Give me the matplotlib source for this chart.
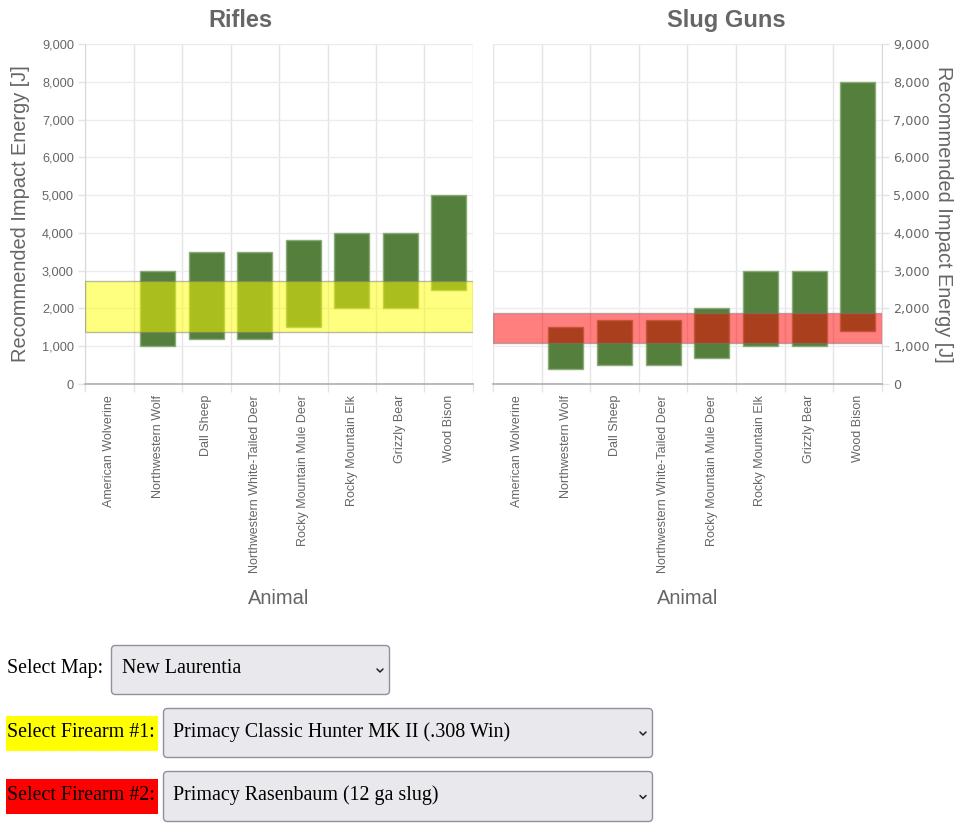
import matplotlib
matplotlib.use("Agg")
import matplotlib.pyplot as plt
import numpy as np
from matplotlib.patches import FancyBboxPatch, Rectangle
from matplotlib.ticker import FuncFormatter, FixedLocator

# ---------------- data ----------------
animals = ["American Wolverine", "Northwestern Wolf", "Dall Sheep",
           "Northwestern White-Tailed Deer", "Rocky Mountain Mule Deer",
           "Rocky Mountain Elk", "Grizzly Bear", "Wood Bison"]

rifle_min = [None, 1000, 1200, 1200, 1500, 2000, 2000, 2500]
rifle_max = [None, 3000, 3500, 3500, 3800, 4000, 4000, 5000]

slug_min = [None, 400, 500, 500, 700, 1000, 1000, 1400]
slug_max = [None, 1500, 1700, 1700, 2000, 3000, 3000, 8000]

firearm1_band = [1365, 2730]   # Primacy Classic Hunter MK II (.308 Win)
firearm2_band = [1090, 1885]   # Primacy Rasenbaum (12 ga slug)

y_ticks = [0, 1000, 2000, 3000, 4000, 5000, 6000, 7000, 8000, 9000]

map_name = "New Laurentia"
firearm1 = "Primacy Classic Hunter MK II (.308 Win)"
firearm2 = "Primacy Rasenbaum (12 ga slug)"

# ---------------- style ----------------
TXT = "#666666"
GRID = "#e4e4e4"
BAR = "#557f3d"
BAR_EDGE = "#8aab78"
SANS = ["Liberation Sans", "DejaVu Sans"]
SERIF = ["Liberation Serif", "DejaVu Serif"]

W, H = 962, 830
fig = plt.figure(figsize=(W / 100, H / 100), dpi=100)


def px_axes(x0, y0, x1, y1):
    return fig.add_axes([x0 / W, 1 - y1 / H, (x1 - x0) / W, (y1 - y0) / H])


def draw_panel(ax, title, title_x, mins, maxs, band, band_color, right=False):
    x = np.arange(len(animals))
    lo = np.array([np.nan if v is None else v for v in mins], dtype=float)
    hi = np.array([np.nan if v is None else v for v in maxs], dtype=float)
    ax.bar(x, hi - lo, bottom=lo, width=0.72, color=BAR,
           edgecolor=BAR_EDGE, linewidth=1.0, zorder=2)
    ax.axhspan(band[0], band[1], facecolor=band_color, alpha=0.5,
               edgecolor="#7a7a7a", linewidth=1.0, zorder=3)

    ax.set_xlim(-0.5, len(animals) - 0.5)
    ax.set_ylim(y_ticks[0], y_ticks[-1])
    ax.set_axisbelow(True)

    ax.set_xticks(x)
    ax.set_xticklabels(animals, rotation=90, ha="center", va="top",
                       fontsize=9, color=TXT, family=SANS)
    ax.xaxis.set_minor_locator(FixedLocator(np.arange(-0.5, len(animals), 1.0)))
    ax.tick_params(axis="x", which="major", length=0, pad=8)
    ax.tick_params(axis="x", which="minor", length=6, color=GRID, width=1)
    ax.grid(True, axis="x", which="minor", color=GRID, linewidth=1)

    ax.yaxis.set_major_locator(FixedLocator(y_ticks))
    ax.yaxis.set_major_formatter(FuncFormatter(lambda v, p: f"{int(v):,}"))
    ax.grid(True, axis="y", which="major", color="#ececec", linewidth=1)
    ax.tick_params(axis="y", length=5, color=GRID, width=1, pad=3,
                   labelsize=9.2, labelcolor=TXT)
    for lbl in ax.get_yticklabels():
        lbl.set_family(SANS)

    ax.spines["top"].set_visible(False)
    ax.spines["bottom"].set_color("#b4b4b4")
    ax.spines["bottom"].set_linewidth(1.3)
    if right:
        ax.yaxis.tick_right()
        ax.yaxis.set_label_position("right")
        ax.spines["left"].set_visible(False)
        ax.spines["right"].set_color("#d8d8d8")
    else:
        ax.spines["right"].set_visible(False)
        ax.spines["left"].set_color("#d8d8d8")

    ax.set_title(title, fontsize=17, fontweight="bold", color=TXT,
                 family=SANS, pad=12, x=title_x)
    ax.set_xlabel("Animal", fontsize=14.4, color=TXT, family=SANS)
    ax.xaxis.set_label_coords(0.5, -0.603)
    ax.xaxis.label.set_va("top")
    if right:
        ax.set_ylabel("Recommended Impact Energy [J]", fontsize=14.4,
                      color=TXT, family=SANS, rotation=270, va="center")
        ax.yaxis.set_label_coords(1.159, 0.5)
    else:
        ax.set_ylabel("Recommended Impact Energy [J]", fontsize=14.4,
                      color=TXT, family=SANS, va="center")
        ax.yaxis.set_label_coords(-0.165, 0.5)


ax1 = px_axes(85, 44, 473, 384)
draw_panel(ax1, "Rifles", (240 - 85) / 388, rifle_min, rifle_max,
           firearm1_band, "#ffff00")
ax2 = px_axes(493, 44, 882, 384)
draw_panel(ax2, "Slug Guns", (726 - 493) / 389, slug_min, slug_max,
           firearm2_band, "#ff0000", right=True)

# ---------------- form controls ----------------
ui = fig.add_axes([0, 0, 1, 1], zorder=-1)
ui.set_xlim(0, W)
ui.set_ylim(H, 0)
ui.axis("off")
ui.patch.set_visible(False)

FS = 14.4


def dropdown(x0, y0, x1, y1, text, tx, base):
    box = FancyBboxPatch((x0 + 0.5, y0 + 0.5), x1 - x0 - 1, y1 - y0 - 1,
                         boxstyle="round,pad=0,rounding_size=4",
                         facecolor="#e9e9ed", edgecolor="#8f8f9d",
                         linewidth=1.0)
    ui.add_patch(box)
    ui.text(tx, base, text, fontsize=FS, family=SERIF, color="black",
            va="baseline", ha="left")
    cx = x1 - 10
    cy = (y0 + y1) / 2 + 0.5
    ui.plot([cx - 3, cx, cx + 3], [cy - 1.5, cy + 1.5, cy - 1.5],
            color="#222222", linewidth=1.1, solid_capstyle="round",
            solid_joinstyle="round")


ui.text(7, 673, "Select Map:", fontsize=FS, family=SERIF, color="black",
        va="baseline", ha="left")
dropdown(111, 645, 390, 695, map_name, 122, 673)

ui.add_patch(Rectangle((6, 716), 152, 35, facecolor="#ffff00", edgecolor="none"))
ui.text(7, 737, "Select Firearm #1:", fontsize=FS, family=SERIF, color="black",
        va="baseline", ha="left")
dropdown(163, 708, 653, 758, firearm1, 173, 737)

ui.add_patch(Rectangle((6, 779), 152, 35, facecolor="#ff0000", edgecolor="none"))
ui.text(7, 800, "Select Firearm #2:", fontsize=FS, family=SERIF, color="black",
        va="baseline", ha="left")
dropdown(163, 771, 653, 822, firearm2, 173, 800)

fig.savefig("out.png", dpi=100)
